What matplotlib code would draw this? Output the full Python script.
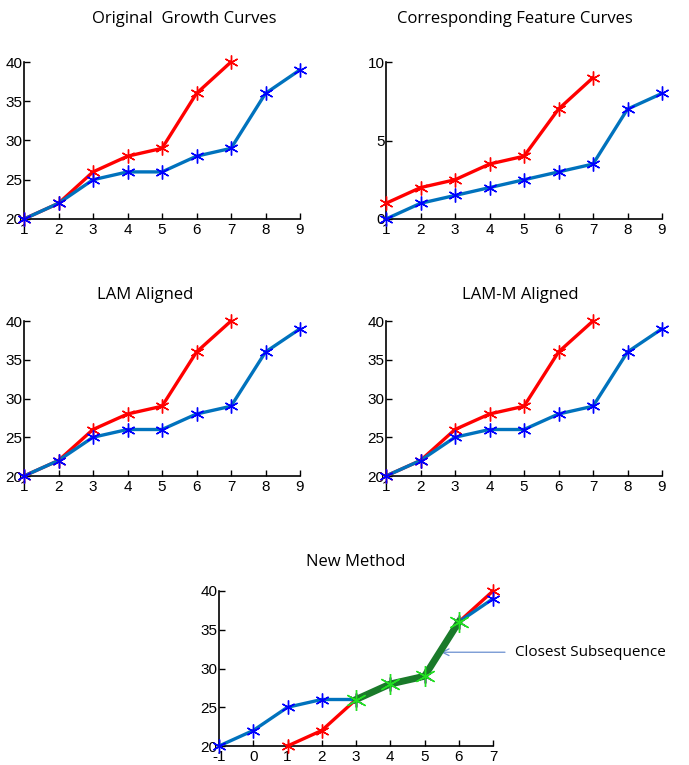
import matplotlib
matplotlib.use("Agg")
import matplotlib.pyplot as plt

plt.rcParams['font.family'] = ['Liberation Sans Narrow', 'Liberation Sans', 'DejaVu Sans']
plt.rcParams['axes.unicode_minus'] = False

# Data
x_red = [1, 2, 3, 4, 5, 6, 7]
x_blue = [1, 2, 3, 4, 5, 6, 7, 8, 9]
growth_red = [20, 22, 26, 28, 29, 36, 40]
growth_blue = [20, 22, 25, 26, 26, 28, 29, 36, 39]
feature_red = [1, 2, 2.5, 3.5, 4, 7, 9]
feature_blue = [0, 1, 1.5, 2, 2.5, 3, 3.5, 7, 8]
new_x_blue = [-1, 0, 1, 2, 3, 4, 5, 6, 7]
new_x_red = [1, 2, 3, 4, 5, 6, 7]
sub_x = [3, 4, 5, 6]
sub_y = [26, 28, 29, 36]
titles = ["Original  Growth Curves", "Corresponding Feature Curves",
          "LAM Aligned", "LAM-M Aligned", "New Method"]

RED = '#FF0000'
BLUE_LINE = '#0072BD'
BLUE_MK = '#0000FF'

fig = plt.figure(figsize=(6.89, 7.65), dpi=100)

def style(ax, xlim, ylim, yticks, xticks, title, ty, tx):
    ax.set_xlim(*xlim)
    ax.set_ylim(*ylim)
    ax.set_xticks(xticks)
    ax.set_yticks(yticks)
    for s in ['top', 'right']:
        ax.spines[s].set_visible(False)
    for s in ['left', 'bottom']:
        ax.spines[s].set_linewidth(1.2)
    ax.tick_params(direction='in', length=4, width=1, labelsize=11, pad=3)
    ax.tick_params(axis='y', pad=1)
    ax.set_title(title, fontsize=12, pad=ty, x=tx,
                 family=['Open Sans', 'DejaVu Sans'])
    for lab in ax.get_xticklabels() + ax.get_yticklabels():
        lab.set_clip_on(False)

def plot_pair(ax, xr, yr, xb, yb):
    ax.plot(xr, yr, color=RED, lw=2.4, clip_on=False, zorder=3)
    ax.plot(xr, yr, ls='none', marker=(6, 2, 0), ms=10, mec=RED, mew=1.0, clip_on=False, zorder=4)
    ax.plot(xb, yb, color=BLUE_LINE, lw=2.4, clip_on=False, zorder=3)
    ax.plot(xb, yb, ls='none', marker=(6, 2, 0), ms=10, mec=BLUE_MK, mew=1.0, clip_on=False, zorder=4)

W = 276 / 689
ax1 = fig.add_axes([24 / 689, 1 - 219 / 765, W, 157 / 765])
plot_pair(ax1, x_red, growth_red, x_blue, growth_blue)
style(ax1, (1, 9), (20, 40), [20, 25, 30, 35, 40], x_blue, titles[0], 28, 0.58)

ax2 = fig.add_axes([386 / 689, 1 - 219 / 765, W, 157 / 765])
plot_pair(ax2, x_red, feature_red, x_blue, feature_blue)
style(ax2, (1, 9), (0, 10), [0, 5, 10], x_blue, titles[1], 28, 0.467)

ax3 = fig.add_axes([24 / 689, 1 - 476 / 765, W, 155 / 765])
plot_pair(ax3, x_red, growth_red, x_blue, growth_blue)
style(ax3, (1, 9), (20, 40), [20, 25, 30, 35, 40], x_blue, titles[2], 16, 0.438)

ax4 = fig.add_axes([386 / 689, 1 - 476 / 765, W, 155 / 765])
plot_pair(ax4, x_red, growth_red, x_blue, growth_blue)
style(ax4, (1, 9), (20, 40), [20, 25, 30, 35, 40], x_blue, titles[3], 16, 0.486)

ax5 = fig.add_axes([219 / 689, 1 - 746 / 765, 274 / 689, 155 / 765])
plot_pair(ax5, new_x_red, growth_red, new_x_blue, growth_blue)
ax5.plot(sub_x, sub_y, color='#1A7A2A', lw=5, zorder=5, clip_on=False)
ax5.plot(sub_x, sub_y, ls='none', marker=(6, 2, 0), ms=15, mec='#22E022', mew=1.0, zorder=6, clip_on=False)
style(ax5, (-1, 7), (20, 40), [20, 25, 30, 35, 40], new_x_blue, titles[4], 18, 0.5)

ax5.annotate("", xy=(5.48, 32.1), xytext=(7.35, 32.1), annotation_clip=False,
             arrowprops=dict(arrowstyle='->', color='#6A8FD0', lw=0.9,
                             shrinkA=0, shrinkB=0, mutation_scale=12))
ax5.text(7.64, 32.1, "Closest Subsequence", fontsize=11,
         family=['Open Sans', 'DejaVu Sans'], va='center', ha='left', clip_on=False)

fig.savefig("out.png", dpi=100)
